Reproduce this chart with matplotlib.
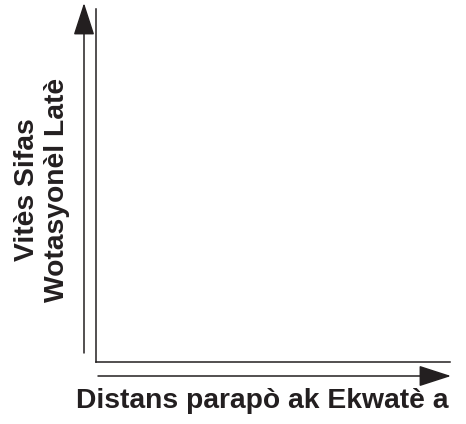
import matplotlib.pyplot as plt

x_label = "Distans parapò ak Ekwatè a"
y_label = "Vitès Sifas\nWotasyonèl Latè"

W, H = 466, 424
ink = "#231f20"

plt.rcParams['font.family'] = ['Liberation Sans', 'DejaVu Sans']

fig = plt.figure(figsize=(W / 100, H / 100), dpi=100)
ax = fig.add_axes([96 / W, (H - 362) / H, (450 - 96) / W, (362 - 9) / H])
ax.set_xticks([])
ax.set_yticks([])
for s in ["top", "right"]:
    ax.spines[s].set_visible(False)
for s in ["left", "bottom"]:
    ax.spines[s].set_color(ink)
    ax.spines[s].set_linewidth(1.1)

# arrows outside the axes, in pixel coords of the figure
def px(x, y):
    return (x / W, 1 - y / H)

arrow = dict(arrowstyle="-|>,head_length=1.45,head_width=0.47", color=ink, lw=1.1,
             shrinkA=0, shrinkB=0)
fig.add_artist(plt.matplotlib.patches.FancyArrowPatch(
    px(84, 353), px(84, 3), transform=fig.transFigure, mutation_scale=14, **arrow))
fig.add_artist(plt.matplotlib.patches.FancyArrowPatch(
    px(98, 376), px(451, 376), transform=fig.transFigure, mutation_scale=14, **arrow))

fig.text(262 / W, 1 - 408 / H, x_label, ha="center", va="baseline",
         fontsize=20.3, fontweight="bold", color=ink)
fig.text(42 / W, 1 - 190 / H, y_label, ha="center", va="center", rotation=90,
         fontsize=20.3, fontweight="bold", color=ink, linespacing=1.2)

fig.savefig("out.png", dpi=100)
